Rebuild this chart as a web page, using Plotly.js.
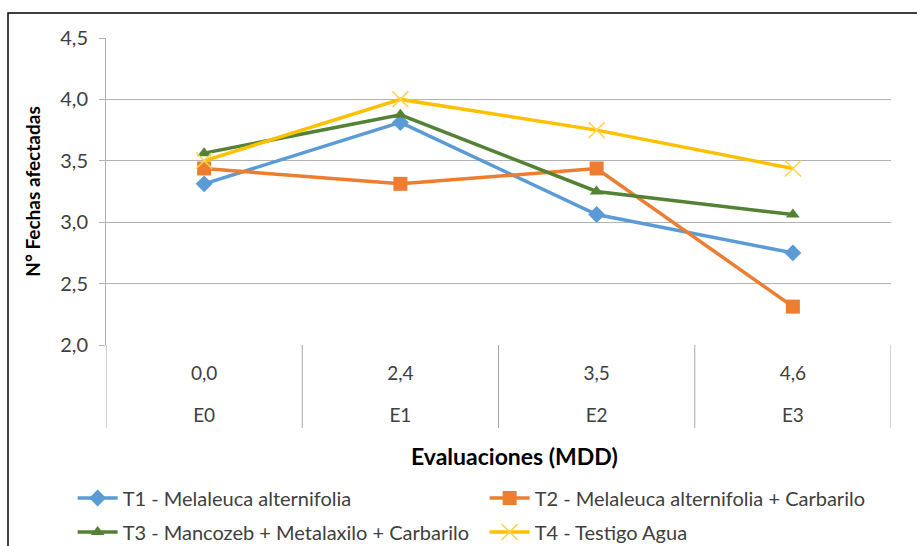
<!DOCTYPE html>
<html>
<head>
<meta charset="utf-8">
<script src="https://cdn.plot.ly/plotly-3.0.1.min.js"></script>
<style>html,body{margin:0;padding:0;background:#fff;}#chart{width:917px;height:546px;}</style>
</head>
<body>
<div id="chart"></div>
<script>
const evaluaciones = ["E0", "E1", "E2", "E3"];
const mdd = ["0,0", "2,4", "3,5", "4,6"];
const seriesNames = [
  "T1 - Melaleuca alternifolia",
  "T2 - Melaleuca alternifolia + Carbarilo",
  "T3 - Mancozeb + Metalaxilo + Carbarilo",
  "T4 - Testigo Agua"
];
const t1 = [3.3125, 3.8125, 3.0625, 2.75];
const t2 = [3.4375, 3.3125, 3.4375, 2.3125];
const t3 = [3.5625, 3.875, 3.25, 3.0625];
const t4 = [3.5, 4.0, 3.75, 3.4375];
const yTicks = [2.0, 2.5, 3.0, 3.5, 4.0, 4.5];

const FONT = "Lato, 'Liberation Sans', sans-serif";

const traces = [
  {x: mdd, y: t1, name: seriesNames[0], type: "scatter", mode: "lines+markers", legend: "legend",
   line: {color: "#5B9BD5", width: 3.5}, marker: {symbol: "diamond", size: 13, color: "#5B9BD5"}},
  {x: mdd, y: t2, name: seriesNames[1], type: "scatter", mode: "lines+markers", legend: "legend",
   line: {color: "#ED7D31", width: 3.5}, marker: {symbol: "square", size: 14, color: "#ED7D31"}},
  {x: mdd, y: t3, name: seriesNames[2], type: "scatter", mode: "lines+markers", legend: "legend2",
   line: {color: "#548235", width: 3.5}, marker: {symbol: "triangle-up", size: 12, color: "#548235"}},
  {x: mdd, y: t4, name: seriesNames[3], type: "scatter", mode: "lines+markers", legend: "legend2",
   line: {color: "#FFC000", width: 3.5}, marker: {symbol: "x-thin", size: 16, color: "#FFD34D", line: {color: "#FFD34D", width: 1.5}}},
  // carrier for the second category row (E0..E3); draws nothing
  {x: evaluaciones, y: t1, xaxis: "x2", yaxis: "y", type: "scatter", mode: "none",
   showlegend: false, hoverinfo: "skip"}
];

const dividers = [];
for (let i = 0; i <= mdd.length; i++) {
  dividers.push({type: "line", xref: "x", yref: "paper", x0: i - 0.5, x1: i - 0.5,
    y0: 0, y1: (345 - 428) / 307, line: {color: "#a6a6a6", width: 1}});
}

const legendBase = {
  orientation: "h", x: -0.0425, xanchor: "left", yanchor: "middle",
  entrywidth: 357, entrywidthmode: "pixels",
  font: {size: 20, color: "#404040"}, itemwidth: 40, bgcolor: "rgba(0,0,0,0)"
};

const layout = {
  width: 917, height: 546,
  margin: {l: 106, r: 26, t: 38, b: 201, autoexpand: false},
  paper_bgcolor: "#ffffff", plot_bgcolor: "#ffffff",
  separators: ",.",
  showlegend: true,
  font: {family: FONT, color: "#404040", size: 19},
  xaxis: {
    type: "category", range: [-0.5, mdd.length - 0.5], automargin: false,
    tickvals: mdd, ticktext: mdd,
    showgrid: false, zeroline: false, showline: false,
    ticks: "", ticklabelstandoff: 15,
    tickfont: {size: 19, color: "#404040"}
  },
  xaxis2: {
    type: "category", overlaying: "x", anchor: "y", side: "bottom",
    range: [-0.5, evaluaciones.length - 0.5], automargin: false,
    tickvals: evaluaciones, ticktext: evaluaciones,
    showgrid: false, zeroline: false, showline: false,
    ticks: "", ticklabelstandoff: 57,
    tickfont: {size: 19, color: "#404040"}
  },
  yaxis: {
    range: [2.0, 4.5], tickvals: yTicks, tickformat: ".1f", automargin: false,
    showgrid: true, gridcolor: "#b3b3b3", gridwidth: 1,
    zeroline: false, showline: true, linecolor: "#b3b3b3", linewidth: 1,
    ticks: "outside", ticklen: 6, tickcolor: "#b3b3b3", ticklabelstandoff: 7,
    tickfont: {size: 20, color: "#404040"},
    title: {text: "N° Fechas afectadas", font: {size: 19, color: "#000000", family: FONT, weight: "bold"}, standoff: 14}
  },
  legend: Object.assign({}, legendBase, {y: (345 - 498) / 307}),
  legend2: Object.assign({}, legendBase, {y: (345 - 532) / 307}),
  annotations: [
    {text: "<b>Evaluaciones (MDD)</b>", xref: "paper", yref: "paper", x: 0.52, y: (345 - 456) / 307,
     xanchor: "center", yanchor: "middle", showarrow: false, font: {size: 23, color: "#000000"}}
  ],
  shapes: dividers.concat([
    {type: "rect", xref: "paper", yref: "paper", x0: (8 - 106) / 785, x1: 1.1, y0: -0.8, y1: (345 - 13) / 307,
     line: {color: "#000000", width: 1.5}, fillcolor: "rgba(0,0,0,0)", layer: "below"}
  ])
};

Plotly.newPlot("chart", traces, layout, {displayModeBar: false, staticPlot: true});
</script>
</body>
</html>
